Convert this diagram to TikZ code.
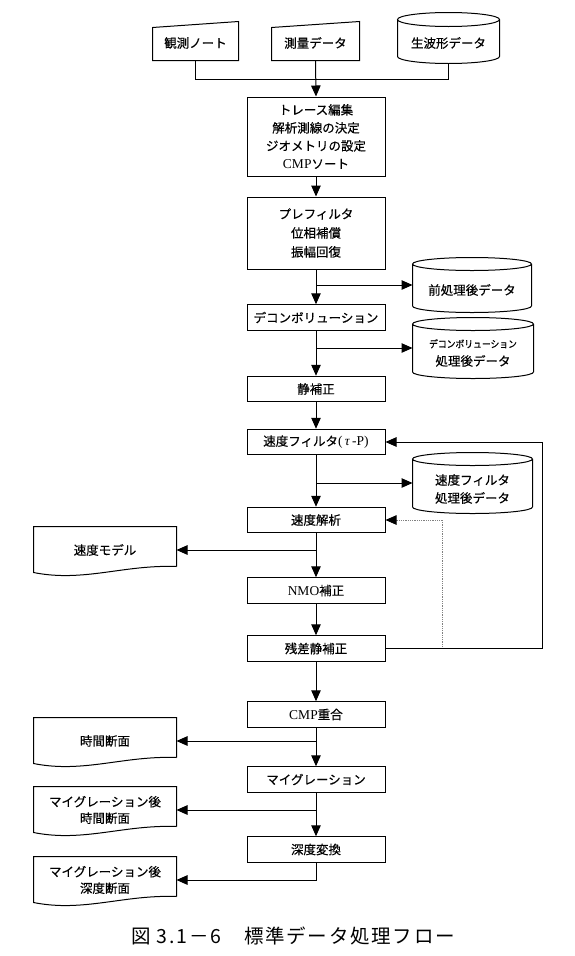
\documentclass[tikz,border=0pt]{standalone}
\usepackage{fontspec}
\usepackage{graphicx}
\setmainfont{Noto Sans CJK JP}[FakeBold=0.35]
\newfontfamily\lat{Liberation Serif}
\newfontfamily\capfont{Noto Sans CJK JP}[LetterSpace=9]
\usetikzlibrary{arrows.meta,calc}
% cylinder outline round a node: name, ry, top offset up, bottom offset up
\newcommand\cylshape[4]{%
  \draw let \p1=($(#1.north west)+(0,-#3)$), \p2=($(#1.south east)+(0,-#4)$), \n1={(\x2-\x1)/2} in
    (\x1+\n1,\y1-#2pt) ellipse [x radius=\n1, y radius=#2pt]
    (\x1,\y1-#2pt) -- (\x1,\y2+#2pt) arc [start angle=180,end angle=360,x radius=\n1,y radius=#2pt] -- (\x2,\y1-#2pt);}
% manual input outline: name, top-left down, top-right up
\newcommand\mishape[3]{%
  \draw (#1.south west) -- (#1.south east) -- ($(#1.north east)+(0,-#3)$) -- ($(#1.north west)+(0,#2)$) -- cycle;}
% document outline: name, top offset up, baseline offset up
\newcommand\docshape[3]{%
  \draw ($(#1.south east)+(0,-#3)$) -- ($(#1.north east)+(0,-#2)$) -- ($(#1.north west)+(0,-#2)$) -- ($(#1.south west)+(0,6-#3)$)
    .. controls ($(#1.south west)+(50,16-#3)$) and ($(#1.south west)+(90,-2-#3)$) .. ($(#1.south east)+(0,-#3)$);}
\begin{document}
\begin{tikzpicture}[x=1pt,y=-1pt,line width=1pt,
  every node/.style={inner sep=0pt,align=center,font=\fontsize{12.5}{18}\selectfont},
  proc/.style={draw,minimum width=138pt,minimum height=25.5pt},
  docfont/.style={font=\fontsize{12.5}{16.5}\selectfont},
  arr/.style={-{Triangle[length=11pt,width=9.5pt]}}]
\fill[white] (0,0) rectangle (575,956);
\useasboundingbox (0,0) rectangle (575,956);

% inputs
\node[minimum width=85pt,minimum height=34pt] (m1) at (195.5,43) {観測ノート};
\node[minimum width=87pt,minimum height=34pt] (m2) at (315.5,43) {測量データ};
\node[minimum width=101pt,minimum height=40pt] (c0) at (448.5,43) {生波形データ};
\mishape{m1}{2}{4}
\mishape{m2}{2}{4}
\cylshape{c0}{7}{10}{0}

% process boxes
\node[proc,minimum height=79pt] (b1) at (316,136.5) {トレース編集\\解析測線の決定\\ジオメトリの設定\\{\lat\fontsize{13.5}{18}\selectfont CMP}ソート};
\node[proc,minimum height=72pt,font=\fontsize{12.5}{19}\selectfont] (b2) at (316,233) {プレフィルタ\\位相補償\\振幅回復};
\node[proc] (b3) at (316,317.5) {デコンボリューション};
\node[proc] (b4) at (316,389) {静補正};
\node[proc] (b5) at (316,442) {速度フィルタ{\lat\fontsize{13.5}{18}\selectfont(\,\textit{τ}\,-P)}};
\node[proc] (b6) at (316,520) {速度解析};
\node[proc] (b7) at (316,590.5) {{\lat\fontsize{13.5}{18}\selectfont NMO}補正};
\node[proc] (b8) at (316,648.5) {残差静補正};
\node[proc] (b9) at (316,714.5) {{\lat\fontsize{13.5}{18}\selectfont CMP}重合};
\node[proc] (b10) at (316,779.5) {マイグレーション};
\node[proc] (b11) at (316,849.5) {深度変換};

% data stores
\node[minimum width=118pt,minimum height=50pt] (c1) at (472,290) {前処理後データ};
\cylshape{c1}{6.5}{7}{3}
\node[minimum width=120pt,minimum height=56pt] (c2) at (473,353) {{\fontsize{10}{10}\selectfont\scalebox{0.88}[1]{デコンボリューション}}\\処理後データ};
\cylshape{c2}{6.5}{7}{3}
\node[minimum width=119pt,minimum height=58pt] (c3) at (472.5,489) {速度フィルタ\\処理後データ};
\cylshape{c3}{6.5}{7}{5}

% documents
\node[docfont,minimum width=142pt,minimum height=40pt] (d1) at (105,550) {速度モデル};
\docshape{d1}{3}{4}
\node[docfont,minimum width=142pt,minimum height=40pt] (d2) at (105,741) {時間断面};
\docshape{d2}{3}{4}
\node[docfont,minimum width=142pt,minimum height=40pt] (d3) at (105,810) {マイグレーション後\\時間断面};
\docshape{d3}{3}{4}
\node[docfont,minimum width=142pt,minimum height=40pt] (d4) at (105,880) {マイグレーション後\\深度断面};
\docshape{d4}{3}{4}

% connectors
\coordinate (jt) at ($(m2.south)+(0,19)$);
\draw (m1.south) |- (jt) -| (c0.south);
\draw[arr] (m2.south) -- (b1.north);
\foreach \a/\b in {b1/b2,b2/b3,b3/b4,b4/b5,b5/b6,b6/b7,b7/b8,b8/b9,b9/b10,b10/b11}
  \draw[arr] (\a.south) -- (\b.north);

\coordinate (k1) at ($(c1.west)+(0,-5)$);
\coordinate (k2) at ($(c2.west)+(0,-5)$);
\coordinate (k3) at ($(c3.west)+(0,-6)$);
\draw[arr] (b2.south |- k1) -- (k1);
\draw[arr] (b3.south |- k2) -- (k2);
\draw[arr] (b5.south |- k3) -- (k3);

\coordinate (f1) at ($(b8.east)+(157,0)$);
\coordinate (f2) at ($(b8.east)+(57,0)$);
\draw[gray,densely dotted,line width=0.8pt,-{Triangle[length=11pt,width=9.5pt,color=black,fill=black]}] (f2) |- (b6.east);
\draw[arr] (b8.east) -- (f1) |- (b5.east);

\draw[arr] (b6.south |- d1.east) -- (d1.east);
\draw[arr] (b9.south |- d2.east) -- (d2.east);
\draw[arr] (b10.south |- d3.east) -- (d3.east);
\draw[arr] (b11.south) |- (d4.east);

% caption
\node[font=\capfont\fontsize{19.5}{22}\selectfont] (cap) at (293,936) {図 3.1－6　標準データ処理フロー};
\end{tikzpicture}
\end{document}
